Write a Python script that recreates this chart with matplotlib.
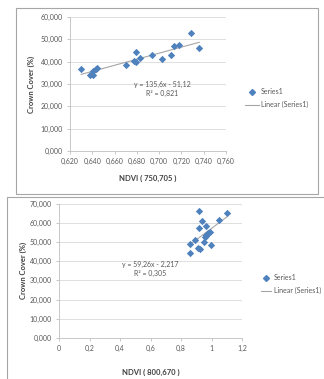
import numpy as np
import matplotlib
matplotlib.use("Agg")
import matplotlib.pyplot as plt
from matplotlib.lines import Line2D
from matplotlib.patches import Rectangle
from matplotlib.ticker import FuncFormatter

plt.rcParams['font.family'] = ['Lato', 'DejaVu Sans']

# NDVI (750,705) vs crown cover
ndvi_750 = [0.630, 0.638, 0.641, 0.641, 0.643, 0.644, 0.670, 0.677, 0.679, 0.679,
            0.683, 0.694, 0.703, 0.711, 0.713, 0.718, 0.729, 0.736]
cover_750 = [36.7, 34.1, 34.1, 35.8, 36.8, 37.3, 38.5, 40.2, 39.9, 44.4,
             41.8, 43.2, 41.1, 43.2, 47.1, 47.3, 52.7, 46.3]
fit_750 = (135.6, -51.12)
r2_750 = 0.821

# NDVI (800,670) vs crown cover
ndvi_800 = [0.917, 1.099, 1.046, 0.936, 0.962, 0.921, 0.987, 0.975, 0.962, 0.955,
            0.895, 0.952, 0.861, 0.998, 0.913, 0.925, 0.861, 0.965]
cover_800 = [66.1, 65.3, 61.2, 60.8, 58.5, 57.3, 55.0, 54.4, 53.8, 52.6,
             51.2, 50.1, 48.9, 48.3, 46.6, 46.5, 44.0, 53.0]
fit_800 = (59.26, -2.217)
r2_800 = 0.305

W, H = 324, 379
BLUE = '#4F81BD'
GRID = '#D9D9D9'
TXT = '#595959'


def px(x, y):
    # pixel position -> figure fraction
    return x / W, 1 - y / H


def comma(fmt):
    return FuncFormatter(lambda v, pos: fmt.format(v).replace('.', ','))


def style_axes(ax):
    for s in ['top', 'right']:
        ax.spines[s].set_visible(False)
    for s in ['left', 'bottom']:
        ax.spines[s].set_color('#BFBFBF')
        ax.spines[s].set_linewidth(0.6)
    ax.grid(axis='y', color=GRID, linewidth=0.6)
    ax.set_axisbelow(True)
    ax.tick_params(colors='#BFBFBF', labelcolor=TXT, labelsize=5, length=2, width=0.6, pad=3)


def draw_panel(ax, x, y, fit, r2, xlim, ylim, xticks, yticks, xfmt, xlabel,
               eq_pos, leg_pos, handle_len, xpad, ypad):
    style_axes(ax)
    ax.scatter(x, y, marker='D', s=14, color=BLUE, linewidths=0, zorder=3)
    xs = np.array([min(x), max(x)])
    ax.plot(xs, fit[0] * xs + fit[1], color='#A6A6A6', linewidth=0.8, zorder=2)
    ax.set_xlim(*xlim)
    ax.set_ylim(*ylim)
    ax.set_xticks(xticks)
    ax.set_yticks(yticks)
    ax.xaxis.set_major_formatter(xfmt)
    ax.yaxis.set_major_formatter(comma('{:.3f}'))
    ax.set_xlabel(xlabel, fontsize=5.5, fontweight='bold', color='#404040', labelpad=xpad)
    ax.set_ylabel('Crown Cover (%)', fontsize=5.5, fontweight='bold', color='#404040', labelpad=ypad)

    ex, ey = eq_pos
    eq = 'y = {}x - {}'.format(str(fit[0]).replace('.', ','), str(abs(fit[1])).replace('.', ','))
    fig.text(*px(ex, ey), eq, fontsize=5, color=TXT, ha='center', va='center')
    fig.text(*px(ex, ey + 9), 'R² = {:.3f}'.format(r2).replace('.', ','),
             fontsize=5, color=TXT, ha='center', va='center')

    handles = [Line2D([], [], marker='D', markersize=3, linestyle='none', color=BLUE),
               Line2D([], [], color='#A6A6A6', linewidth=0.8)]
    fig.legend(handles, ['Series1', 'Linear (Series1)'], loc='upper left',
               bbox_to_anchor=px(*leg_pos), frameon=False, fontsize=5,
               labelcolor=TXT, handlelength=handle_len, handletextpad=0.3,
               labelspacing=0.9, borderpad=0, borderaxespad=0)


fig = plt.figure(figsize=(W / 100, H / 100), dpi=100)

# chart frames
fig.patches.append(Rectangle(px(16, 194), 302 / W, 186 / H, transform=fig.transFigure,
                             fill=False, edgecolor='#A6A6A6', linewidth=0.8))
fig.patches.append(Rectangle(px(7, 385), 330 / W, 188 / H, transform=fig.transFigure,
                             fill=False, edgecolor='#A6A6A6', linewidth=0.8))

ax1 = fig.add_axes([70 / W, 1 - 151 / H, 156 / W, 134 / H])
draw_panel(ax1, ndvi_750, cover_750, fit_750, r2_750,
           (0.62, 0.76), (0, 60), np.arange(0.62, 0.7601, 0.02), np.arange(0, 61, 10),
           comma('{:.3f}'), 'NDVI ( 750,705 )', (162, 84), (245, 88), 2.0, 7, 4)

ax2 = fig.add_axes([59 / W, 1 - 338 / H, 183 / W, 134.5 / H])
draw_panel(ax2, ndvi_800, cover_800, fit_800, r2_800,
           (0, 1.2), (0, 70), np.arange(0, 1.21, 0.2), np.arange(0, 71, 10),
           FuncFormatter(lambda v, pos: '{:g}'.format(round(v, 1)).replace('.', ',')),
           'NDVI ( 800,670 )', (150, 264), (261, 274), 1.5, 12, 2)

fig.savefig('out.png', dpi=100)
